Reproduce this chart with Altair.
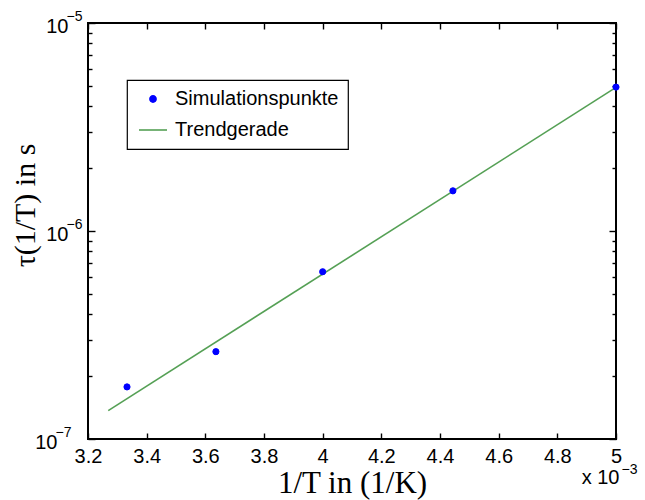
import altair as alt
import pandas as pd

# ---- data ----
x_sim = [0.003333, 0.003636, 0.004000, 0.004444, 0.005000]
y_sim = [1.78e-7, 2.63e-7, 6.37e-7, 1.56e-6, 4.92e-6]
trend_x = [0.003269, 0.005000]
trend_y = [1.37e-7, 4.90e-6]
series = ["Simulationspunkte", "Trendgerade"]
colors = ["#0000ff", "#55a055"]
x_ticks = [0.0032, 0.0034, 0.0036, 0.0038, 0.0040, 0.0042, 0.0044, 0.0046, 0.0048, 0.0050]
y_major = [1e-7, 1e-6, 1e-5]
y_minor = [2e-7, 3e-7, 4e-7, 5e-7, 6e-7, 7e-7, 8e-7, 9e-7,
           2e-6, 3e-6, 4e-6, 5e-6, 6e-6, 7e-6, 8e-6, 9e-6]
x_title = "1/T in (1/K)"
y_title = "τ(1/T) in s"

W, H = 528, 416
FONT = "Liberation Sans"
SERIF = "Liberation Serif"

sim = pd.DataFrame({"x": x_sim, "y": y_sim, "series": series[0]})
trend = pd.DataFrame({"x": trend_x, "y": trend_y})

xs = alt.Scale(domain=[0.0032, 0.005], nice=False, zero=False)
ys = alt.Scale(type="log", domain=[1e-7, 1e-5], nice=False)


def X(axis):
    return alt.X("x:Q", scale=xs, axis=axis)


def Y(axis):
    return alt.Y("y:Q", scale=ys, axis=axis)


def inward(orient, offset, values, size):
    return alt.Axis(orient=orient, offset=offset, values=values, labels=False,
                    domain=False, grid=False, ticks=True, tickSize=size,
                    tickColor="black", tickWidth=1.4, title=None)


def labels_only(**kw):
    base = dict(domain=False, grid=False, ticks=False, tickSize=0,
                labelColor="black", labelOverlap=False, labelFlush=False,
                labelBound=False)
    base.update(kw)
    return alt.Axis(**base)


def ten(values, pad, **kw):
    return labels_only(orient="left", values=values, labelExpr="'10'",
                       labelFont=FONT, labelFontSize=20, labelPadding=pad,
                       labelOffset=3, labelAlign="right", labelBaseline="middle", **kw)


def sup(values, pad):
    return labels_only(orient="left", values=values,
                       labelExpr="'−' + round(-log(datum.value)/LN10)",
                       labelFont=FONT, labelFontSize=14, labelPadding=pad,
                       labelOffset=-7, labelAlign="right", labelBaseline="middle",
                       title=None)


# main labels + titles, trend line drawn here
ax_x_lab = labels_only(orient="bottom", values=x_ticks,
                       labelExpr="format(datum.value*1000, '.1~f')",
                       labelFont=FONT, labelFontSize=20, labelPadding=7,
                       title=x_title, titleFont=SERIF, titleFontSize=31,
                       titleFontWeight="normal", titleColor="black", titleY=29,
                       titleBaseline="top")
ax_y_lab = ten(y_major[1:], 20, title=y_title, titleFont=SERIF, titleFontSize=30,
               titleFontWeight="normal", titleColor="black", titleX=-48, titleY=182)

line = alt.Chart(trend).mark_line(color=colors[1], strokeWidth=1.6).encode(
    x=X(ax_x_lab), y=Y(ax_y_lab))

legend = alt.Legend(
    title=None, orient="none", legendX=39, legendY=57,
    fillColor="white", strokeColor="black",
    padding=9, symbolOffset=2, labelOffset=7, rowPadding=6, labelLimit=400,
    labelFont=FONT, labelFontSize=20, labelColor="black",
    symbolStrokeWidth=1.6, symbolOpacity=1)

points = alt.Chart(sim).mark_point(filled=False, opacity=1, strokeWidth=1).encode(
    x=X(inward("top", -H, x_ticks, 6)),
    y=Y(inward("right", -W, y_major, 7)),
    color=alt.Color("series:N", scale=alt.Scale(domain=series, range=colors),
                    legend=legend),
    fill=alt.Fill("series:N", scale=alt.Scale(domain=series, range=[colors[0], "transparent"]),
                  legend=legend),
    shape=alt.Shape("series:N", scale=alt.Scale(domain=series, range=["circle", "stroke"]),
                    legend=legend),
    size=alt.Size("series:N", scale=alt.Scale(domain=series, range=[38, 784]),
                  legend=legend))

ghost = alt.Chart(sim).mark_point(opacity=0)

g1 = ghost.encode(x=X(inward("bottom", -H, x_ticks, 6)),
                  y=Y(inward("right", -W, y_minor, 4)))
g2 = ghost.encode(x=X(labels_only(orient="bottom", values=[0.005], labelExpr="'x 10'",
                                  labelFont=FONT, labelFontSize=20, labelPadding=28,
                                  labelAlign="right", labelOffset=3, title=None)),
                  y=Y(inward("left", -W, y_major, 7)))
g3 = ghost.encode(x=X(labels_only(orient="bottom", values=[0.005], labelExpr="'−3'",
                                  labelFont=FONT, labelFontSize=14, labelPadding=23,
                                  labelAlign="left", labelOffset=5, title=None)),
                  y=Y(inward("left", -W, y_minor, 4)))
g4 = ghost.encode(x=X(None), y=Y(sup(y_major[1:], 6)))
g5 = ghost.encode(x=X(None), y=Y(ten(y_major[:1], 31, title=None)))
g6 = ghost.encode(x=X(None), y=Y(sup(y_major[:1], 17)))

chart = alt.layer(line, points, g1, g2, g3, g4, g5, g6).resolve_axis(
    x="independent", y="independent"
).properties(
    width=W, height=H, padding={"left": 10, "top": 9, "right": 5, "bottom": 2},
    background="white"
).configure_view(stroke="black", strokeWidth=2).configure_legend(strokeWidth=1.2)

chart.save("out.html", embed_options={"renderer": "svg", "actions": False})
